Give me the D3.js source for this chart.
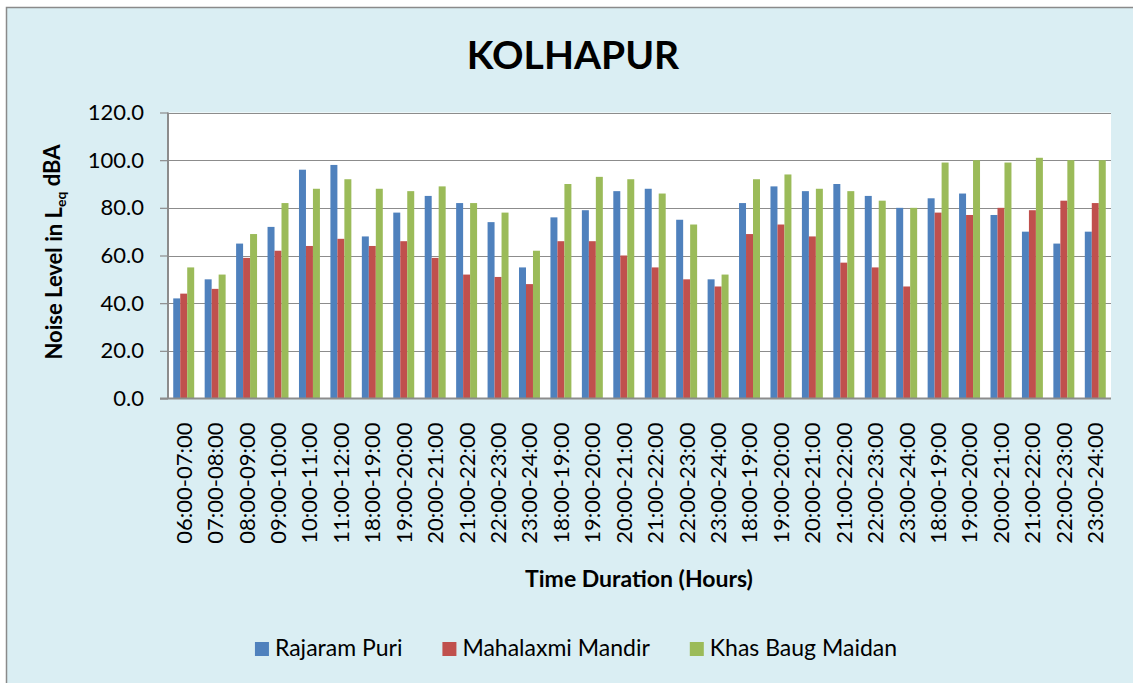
<!DOCTYPE html>
<html>
<head>
<meta charset="utf-8">
<script src="https://cdn.jsdelivr.net/npm/d3@7"></script>
<style>
  html, body { margin: 0; padding: 0; background: #ffffff; }
  svg { display: block; }
  text { font-family: Lato, "Open Sans", sans-serif; fill: #000; }
</style>
</head>
<body>
<svg id="chart" width="1133" height="683"></svg>
<script>
const categories = [
  "06:00-07:00","07:00-08:00","08:00-09:00","09:00-10:00","10:00-11:00","11:00-12:00",
  "18:00-19:00","19:00-20:00","20:00-21:00","21:00-22:00","22:00-23:00","23:00-24:00",
  "18:00-19:00","19:00-20:00","20:00-21:00","21:00-22:00","22:00-23:00","23:00-24:00",
  "18:00-19:00","19:00-20:00","20:00-21:00","21:00-22:00","22:00-23:00","23:00-24:00",
  "18:00-19:00","19:00-20:00","20:00-21:00","21:00-22:00","22:00-23:00","23:00-24:00"
];
const rajaramPuri = [42,50,65,72,96,98,68,78,85,82,74,55,76,79,87,88,75,50,82,89,87,90,85,80,84,86,77,70,65,70];
const mahalaxmiMandir = [44,46,59,62,64,67,64,66,59,52,51,48,66,66,60,55,50,47,69,73,68,57,55,47,78,77,80,79,83,82];
const khasBaugMaidan = [55,52,69,82,88,92,88,87,89,82,78,62,90,93,92,86,73,52,92,94,88,87,83,80,99,100,99,101,100,100];
const seriesNames = ["Rajaram Puri","Mahalaxmi Mandir","Khas Baug Maidan"];
const seriesColors = ["#4F81BD","#C0504D","#9BBB59"];
const yTicks = [0,20,40,60,80,100,120];

const series = [rajaramPuri, mahalaxmiMandir, khasBaugMaidan];

const svg = d3.select("#chart");
const W = 1133, H = 683;

// chart area background
svg.append("rect")
  .attr("x", 6.5).attr("y", 7.5)
  .attr("width", W + 10).attr("height", H + 10)
  .attr("fill", "#DAEEF3")
  .attr("stroke", "#8A8A8A").attr("stroke-width", 1.5);

const plot = {left: 168, right: 1111, top: 112.5, bottom: 398.5};

const x = d3.scaleBand()
  .domain(d3.range(categories.length))
  .range([plot.left, plot.right])
  .paddingInner(0).paddingOuter(0);

const inner = d3.scaleBand()
  .domain(d3.range(series.length))
  .range([0, x.bandwidth() * 3 / 4.5]);

const y = d3.scaleLinear().domain([0, 120]).range([plot.bottom, plot.top]);

// plot area
svg.append("rect")
  .attr("x", plot.left).attr("y", plot.top)
  .attr("width", plot.right - plot.left).attr("height", plot.bottom - plot.top)
  .attr("fill", "#ffffff");

// gridlines
svg.append("g").selectAll("line")
  .data(yTicks.filter(d => d > 0))
  .join("line")
  .attr("x1", plot.left).attr("x2", plot.right)
  .attr("y1", d => Math.round(y(d)) + 0.5).attr("y2", d => Math.round(y(d)) + 0.5)
  .attr("stroke", "#8C8C8C").attr("stroke-width", 1.2);

// bars
const groupOffset = (x.bandwidth() - inner.range()[1]) / 2;
series.forEach((vals, si) => {
  svg.append("g").selectAll("rect")
    .data(vals)
    .join("rect")
    .attr("x", (d, i) => x(i) + groupOffset + inner(si))
    .attr("width", inner.bandwidth())
    .attr("y", d => y(d))
    .attr("height", d => y(0) - y(d))
    .attr("fill", seriesColors[si]);
});

// y axis
const yAxis = d3.axisLeft(y).tickValues(yTicks).tickFormat(d3.format(".1f")).tickSize(8).tickPadding(16);
const yg = svg.append("g").attr("transform", `translate(${plot.left},0)`).call(yAxis);
yg.select(".domain").attr("stroke", "#8C8C8C").attr("stroke-width", 2).attr("d", `M0,${plot.top}V${plot.bottom}`);
yg.selectAll(".tick line").attr("stroke", "#8C8C8C").attr("stroke-width", 1.2);
yg.selectAll(".tick text").style("font-size", "22px").style("font-family", "Lato, sans-serif").attr("fill", "#000");

// x axis baseline
svg.append("line")
  .attr("x1", plot.left - 8).attr("x2", plot.right)
  .attr("y1", plot.bottom).attr("y2", plot.bottom)
  .attr("stroke", "#8C8C8C").attr("stroke-width", 2);

// x tick labels
svg.append("g").selectAll("text")
  .data(categories)
  .join("text")
  .attr("transform", (d, i) => `translate(${x(i) + x.bandwidth() / 2},${plot.bottom + 24}) rotate(-90)`)
  .attr("dy", "0.36em")
  .attr("text-anchor", "end")
  .style("font-size", "22px")
  .text(d => d);

// title
svg.append("text")
  .attr("x", 573).attr("y", 69)
  .attr("text-anchor", "middle")
  .style("font-size", "39px").style("font-weight", "bold")
  .text("KOLHAPUR");

// x axis title
svg.append("text")
  .attr("x", 639).attr("y", 587)
  .attr("text-anchor", "middle")
  .style("font-size", "23px").style("font-weight", "bold")
  .text("Time Duration (Hours)");

// y axis title
const yt = svg.append("text")
  .attr("transform", "translate(62,252) rotate(-90)")
  .attr("text-anchor", "middle")
  .style("font-size", "22px").style("font-weight", "bold");
yt.append("tspan").text("Noise Level in L");
yt.append("tspan").attr("dy", "0.3em").style("font-size", "14px").text("eq");
yt.append("tspan").attr("dy", "-0.3em").text(" dBA");

// legend
const legend = svg.append("g");
const items = legend.selectAll("g").data(seriesNames).join("g");
items.append("rect").attr("width", 14).attr("height", 14).attr("y", -14)
  .attr("fill", (d, i) => seriesColors[i]);
items.append("text").attr("x", 20).attr("y", 0)
  .style("font-size", "23px")
  .text(d => d);
const legendGap = 40;
let cursor = 0;
items.each(function () {
  const g = d3.select(this);
  g.attr("transform", `translate(${cursor},0)`);
  const w = 20 + g.select("text").node().getComputedTextLength();
  cursor += w + legendGap;
});
const totalW = cursor - legendGap;
legend.attr("transform", `translate(${576 - totalW / 2},656)`);
</script>
</body>
</html>
